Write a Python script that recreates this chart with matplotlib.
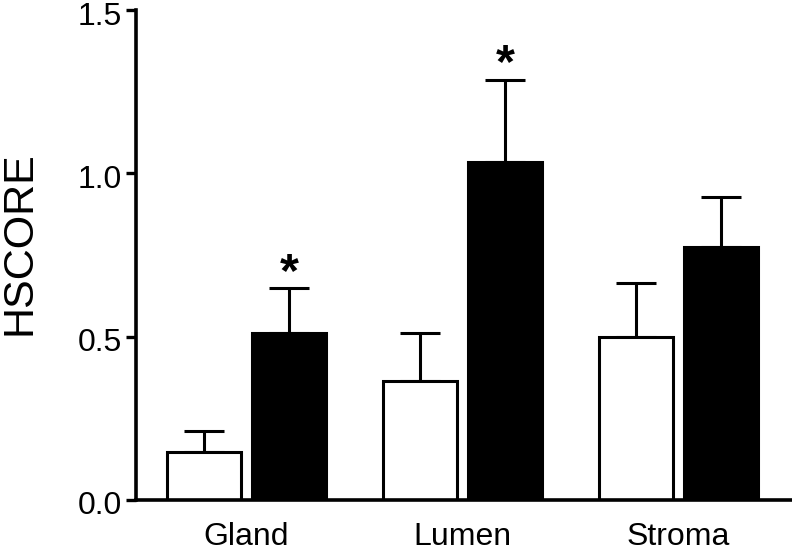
import matplotlib
matplotlib.use("Agg")
import matplotlib.pyplot as plt
import matplotlib.transforms as mtransforms
import numpy as np

categories = ["Gland", "Lumen", "Stroma"]
white_vals = [0.148, 0.365, 0.498]
white_err = [0.063, 0.147, 0.166]
black_vals = [0.51, 1.035, 0.773]
black_err = [0.138, 0.252, 0.156]
black_sig = [True, True, False]
yticks = [0.0, 0.5, 1.0, 1.5]
ytick_labels = ["0.0", "0.5", "1.0", "1.5"]

plt.rcParams['font.family'] = ['Liberation Sans', 'DejaVu Sans']

fig = plt.figure(figsize=(7.92, 5.58), dpi=100)
ax = fig.add_axes([136/792, 1 - 500/558, 1 - 136/792, (500 - 10)/558])

x = np.arange(len(categories))
w = 0.343
off = 0.197
lw = 2.2

ax.bar(x - off, white_vals, w, color="white", edgecolor="black", linewidth=lw, zorder=2)
ax.bar(x + off, black_vals, w, color="black", edgecolor="black", linewidth=lw, zorder=2)
ax.errorbar(x - off, white_vals, yerr=[np.zeros(3), white_err], fmt="none",
            ecolor="black", elinewidth=lw, capsize=14.5, capthick=lw, zorder=1)
ax.errorbar(x + off, black_vals, yerr=[np.zeros(3), black_err], fmt="none",
            ecolor="black", elinewidth=lw, capsize=14.5, capthick=lw, zorder=1)

for i, s in enumerate(black_sig):
    if s:
        ax.annotate("*", xy=(x[i] + off, black_vals[i] + black_err[i]),
                    xytext=(0, 1.5), textcoords="offset points",
                    ha="center", va="baseline", fontsize=35, fontweight="bold")

ax.set_xlim(-0.512, 2.525)
ax.set_ylim(0, 1.5)
ax.set_yticks(yticks)
ax.set_yticklabels(ytick_labels, fontsize=23)
ax.set_xticks(x)
ax.set_xticklabels(categories, fontsize=23)
ax.tick_params(axis="x", length=0, pad=16)
ax.tick_params(axis="y", length=7, width=2.4, pad=3)
shift = mtransforms.ScaledTranslation(0, -3 / 100, fig.dpi_scale_trans)
for lab in ax.get_yticklabels():
    lab.set_transform(lab.get_transform() + shift)
fig.text(20/792, 1 - 243.5/558, "HSCORE", rotation=90, ha="center", va="center", fontsize=31)

for side in ["top", "right"]:
    ax.spines[side].set_visible(False)
for side in ["left", "bottom"]:
    ax.spines[side].set_linewidth(2.6)
ax.set_clip_on(False)

fig.savefig("out.png", dpi=100)
